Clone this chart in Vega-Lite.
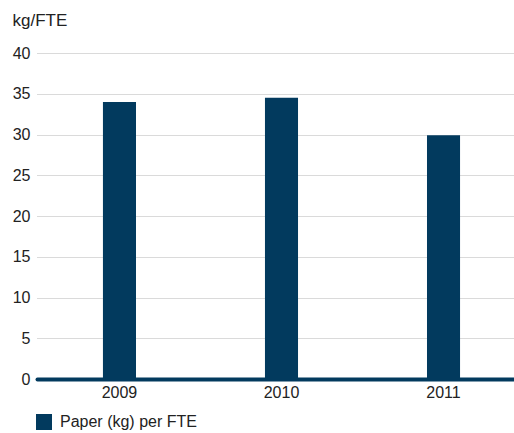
{
  "$schema": "https://vega.github.io/schema/vega-lite/v6.json",
  "width": 477,
  "height": 326,
  "autosize": {"type": "none"},
  "padding": {"left": 37, "top": 53, "right": 0, "bottom": 54},
  "background": "white",
  "config": {
    "view": {"stroke": null},
    "font": "Liberation Sans"
  },
  "data": {
    "values": [
      {"year": "2009", "value": 34.0, "series": "Paper (kg) per FTE"},
      {"year": "2010", "value": 34.5, "series": "Paper (kg) per FTE"},
      {"year": "2011", "value": 29.9, "series": "Paper (kg) per FTE"}
    ]
  },
  "mark": {"type": "bar", "color": "#023a5e"},
  "encoding": {
    "x": {
      "field": "year",
      "type": "ordinal",
      "scale": {"paddingInner": 0.796, "paddingOuter": 0.37, "align": 0.55},
      "axis": {
        "title": null,
        "labelAngle": 0,
        "ticks": false,
        "domainColor": "#023a5e",
        "domainWidth": 4,
        "domainCap": "round",
        "labelFontSize": 16,
        "labelColor": "#222222",
        "labelPadding": 5
      }
    },
    "y": {
      "field": "value",
      "type": "quantitative",
      "scale": {"domain": [0, 40], "nice": false},
      "axis": {
        "values": [0, 5, 10, 15, 20, 25, 30, 35, 40],
        "title": "kg/FTE",
        "titleAngle": 0,
        "titleX": -25,
        "titleY": -28,
        "titleAlign": "left",
        "titleBaseline": "alphabetic",
        "titleFontSize": 17,
        "titleFontWeight": "normal",
        "titleColor": "#222222",
        "domain": false,
        "ticks": false,
        "labelFontSize": 16,
        "labelColor": "#222222",
        "labelPadding": 7,
        "grid": true,
        "gridColor": "#b4b4b4",
        "gridDash": [1, 1],
        "gridWidth": 1
      }
    },
    "color": {
      "field": "series",
      "type": "nominal",
      "scale": {"range": ["#023a5e"]},
      "legend": {
        "title": null,
        "orient": "none",
        "legendX": -1,
        "legendY": 361,
        "symbolType": "square",
        "symbolSize": 256,
        "symbolStrokeWidth": 0,
        "symbolOpacity": 1,
        "labelFontSize": 16,
        "labelColor": "#222222",
        "labelOffset": 8
      }
    }
  }
}
